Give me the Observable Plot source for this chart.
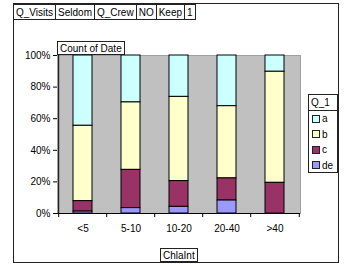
<!DOCTYPE html>
<html>
<head>
<meta charset="utf-8">
<script src="https://cdn.jsdelivr.net/npm/d3@7"></script>
<script src="https://cdn.jsdelivr.net/npm/@observablehq/plot@0.6"></script>
<style>
  html, body { margin: 0; padding: 0; background: #fff; }
  #wrap { position: relative; width: 347px; height: 266px; font-family: "Liberation Sans", Arial, sans-serif; font-size: 10px; color: #000; overflow: hidden; }
  #wrap svg { position: absolute; left: 0; top: 0; }
  .frame { position: absolute; left: 13px; top: 3px; width: 326px; height: 260px; border: 1px solid #222; box-sizing: border-box; }
  .btns { position: absolute; left: 13px; top: 4px; display: flex; }
  .btn { border: 1px solid #222; background: #fff; padding: 0 2px; height: 16px; line-height: 15px; box-sizing: border-box; margin-left: -1px; white-space: nowrap; }
  .btn:first-child { margin-left: 0; }
  .box { position: absolute; border: 1px solid #222; background: #fff; padding: 0 2px; height: 14px; line-height: 13px; box-sizing: border-box; white-space: nowrap; }
  .legend { position: absolute; left: 308px; top: 94px; width: 30px; height: 79px; border: 1px solid #222; box-sizing: border-box; background: #fff; }
  .legend .hd { height: 15px; line-height: 15px; padding-left: 2px; border-bottom: 1px solid #222; }
  .legend .it { height: 15.5px; line-height: 15.5px; padding-left: 3px; display: flex; align-items: center; }
  .legend .sw { width: 6px; height: 6px; border: 1px solid #222; margin-right: 2px; }
</style>
</head>
<body>
<div id="wrap"></div>
<script>
const categories = ["<5", "5-10", "10-20", "20-40", ">40"];
const seriesNames = ["a", "b", "c", "de"];
const stackOrder = ["de", "c", "b", "a"];
const seriesColors = ["#CCFFFF", "#FFFFCC", "#993366", "#9999FF"];
const valuesA  = [0.445, 0.297, 0.262, 0.321, 0.103];
const valuesB  = [0.477, 0.427, 0.533, 0.457, 0.703];
const valuesC  = [0.066, 0.242, 0.163, 0.140, 0.194];
const valuesDE = [0.012, 0.034, 0.042, 0.082, 0.000];
const yTicks = [0, 0.2, 0.4, 0.6, 0.8, 1];
const pageFields = ["Q_Visits", "Seldom", "Q_Crew", "NO", "Keep", "1"];
const dataFieldLabel = "Count of Date";
const axisFieldLabel = "ChlaInt";
const legendTitle = "Q_1";

const seriesValues = { a: valuesA, b: valuesB, c: valuesC, de: valuesDE };
const rows = [];
categories.forEach((cat, i) => {
  seriesNames.forEach(s => rows.push({ cat, series: s, value: seriesValues[s][i] }));
});

const W = 347, H = 266, mL = 57, mR = 47, mT = 55, mB = 53;
const step = (W - mL - mR) / categories.length;

const chart = Plot.plot({
  width: W, height: H,
  marginLeft: mL, marginRight: mR, marginTop: mT, marginBottom: mB,
  style: { fontFamily: '"Liberation Sans", Arial, sans-serif', fontSize: "10px", color: "#000", background: "transparent" },
  x: { domain: categories, paddingInner: 0.6, paddingOuter: 0.3, label: null },
  y: { domain: [0, 1], label: null },
  color: { domain: seriesNames, range: seriesColors },
  marks: [
    Plot.frame({ fill: "#c0c0c0", stroke: "#a0a0a0" }),
    Plot.barY(rows, { x: "cat", y: "value", fill: "series", stroke: "#000", strokeWidth: 1, order: stackOrder }),
    Plot.axisY({ ticks: yTicks, tickFormat: d3.format(".0%"), tickSize: 4, tickPadding: 3, stroke: "#000", label: null }),
    Plot.axisX({ tickSize: 0, tickPadding: 11, label: null }),
    Plot.ruleX(categories, { x: d => d, dx: -step / 2, y1: 0, y2: -0.026, stroke: "#000" }),
    Plot.ruleX([categories[categories.length - 1]], { x: d => d, dx: step / 2, y1: 0, y2: -0.026, stroke: "#000" }),
    Plot.ruleY([0], { stroke: "#000" }),
    Plot.ruleX([categories[0]], { x: d => d, dx: -step / 2, y1: 0, y2: 1, stroke: "#000" })
  ]
});

const wrap = document.getElementById("wrap");
const frame = document.createElement("div");
frame.className = "frame";
wrap.appendChild(frame);
wrap.appendChild(chart);

const btns = document.createElement("div");
btns.className = "btns";
pageFields.forEach(t => {
  const b = document.createElement("div");
  b.className = "btn";
  b.textContent = t;
  btns.appendChild(b);
});
wrap.appendChild(btns);

const cod = document.createElement("div");
cod.className = "box";
cod.style.left = "57px"; cod.style.top = "41px";
cod.textContent = dataFieldLabel;
wrap.appendChild(cod);

const ax = document.createElement("div");
ax.className = "box";
ax.style.left = "160px"; ax.style.top = "248px";
ax.textContent = axisFieldLabel;
wrap.appendChild(ax);

const lg = document.createElement("div");
lg.className = "legend";
const hd = document.createElement("div");
hd.className = "hd"; hd.textContent = legendTitle;
lg.appendChild(hd);
seriesNames.forEach((s, i) => {
  const it = document.createElement("div");
  it.className = "it";
  const sw = document.createElement("span");
  sw.className = "sw"; sw.style.background = seriesColors[i];
  const tx = document.createElement("span");
  tx.textContent = s;
  it.appendChild(sw); it.appendChild(tx);
  lg.appendChild(it);
});
wrap.appendChild(lg);
</script>
</body>
</html>
